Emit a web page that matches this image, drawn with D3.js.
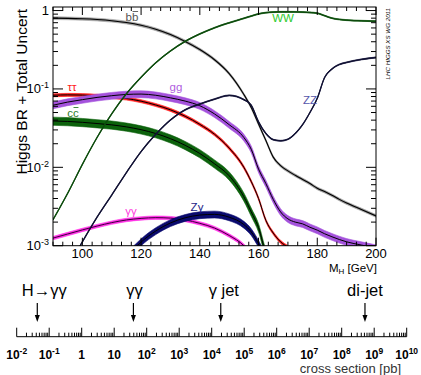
<!DOCTYPE html>
<html><head><meta charset="utf-8">
<script src="https://cdn.jsdelivr.net/npm/d3@7"></script>
<style>
body{margin:0;background:#fff}
svg{display:block;font-family:"Liberation Sans",Arial,Helvetica,sans-serif}
</style></head><body>
<svg id="c" width="421" height="375"></svg>
<script>
// ---------------- data ----------------
const masses = [90,95,100,105,110,115,120,125,130,135,140,145,150,155,157.5,160,162.5,165,167.5,170,172.5,175,177.5,180,182.5,185,187.5,190,195,200];
const brBB = [0.80,0.795,0.785,0.768,0.742,0.703,0.648,0.577,0.494,0.404,0.318,0.236,0.157,0.085,0.058,0.0356,0.022,0.0135,0.0105,0.0090,0.0079,0.0070,0.0062,0.0054,0.0049,0.0044,0.0039,0.0035,0.0029,0.0024];
const brTauTau = [0.083,0.084,0.0835,0.0818,0.079,0.0755,0.0698,0.0624,0.0541,0.0448,0.0353,0.0264,0.0176,0.0100,0.0066,0.0040,0.0021,0.00145,0.00112,0.00096,0.00086,0.00078,0.00070,0.00063,0.00057,0.00051,0.00046,0.00041,0.00034,0.00028];
const brCC = [0.039,0.0385,0.0375,0.0362,0.0348,0.0328,0.0302,0.027,0.0232,0.0191,0.0150,0.0111,0.0078,0.0042,0.0027,0.0017,0.0008,0.00057,0.00045,0.00039,0.00035,0.00032,0.00029,0.00026,0.00024,0.00021,0.00019,0.00017,0.00014,0.00012];
const brGG = [0.062,0.068,0.073,0.078,0.082,0.085,0.086,0.083,0.077,0.070,0.061,0.048,0.035,0.024,0.017,0.0095,0.0062,0.0039,0.0027,0.0022,0.0020,0.0019,0.00172,0.00158,0.00142,0.0013,0.0012,0.00112,0.00102,0.00093];
const brGamGam = [0.00125,0.00141,0.00159,0.00178,0.00197,0.00213,0.00223,0.00228,0.00225,0.00213,0.00193,0.00168,0.00135,0.00100,0.00078,0.00052,0.00035,0.00024,0.00019,0.00016,0.00014,0.00013,0.00012,0.00011,0.0001,0.00009,0.000085,0.00008,0.00007,0.00006];
const brZGam = [null,null,null,0.00012,0.00033,0.00070,0.00111,0.00154,0.00195,0.00227,0.00246,0.00251,0.00231,0.00186,0.0015,0.00106,0.0007,0.0005,0.0004,0.00035,0.0003,0.00028,0.00026,0.00024,0.00022,0.0002,0.00019,0.00018,0.00016,0.00014];
const brWW = [0.00214,0.00466,0.0109,0.0240,0.0482,0.0868,0.141,0.216,0.305,0.404,0.503,0.603,0.698,0.796,0.85,0.905,0.94,0.955,0.962,0.962,0.96,0.955,0.945,0.925,0.86,0.80,0.77,0.755,0.74,0.73];
const brZZ = [0.00025,0.00052,0.00112,0.00231,0.00443,0.00857,0.0159,0.0264,0.0402,0.0541,0.0641,0.0741,0.0827,0.0730,0.062,0.038,0.027,0.0225,0.0218,0.0228,0.027,0.035,0.050,0.076,0.14,0.18,0.205,0.218,0.238,0.252];
// relative uncertainty (band half width) per channel
const channelNames = ["bb","tautau","cc","gamgam","Zgam","gg","WW","ZZ"];
const channelUncert = [0.04,0.045,0.12,0.05,0.10,0.10,0.015,0.015];

const xTickLabels = [100,120,140,160,180,200];
const yTickExponents = [0,-1,-2,-3];
const xsExponents = [-2,-1,0,1,2,3,4,5,6,7,8,9,10];
const processNames = ["H\u2192\u03b3\u03b3","\u03b3\u03b3","\u03b3 jet","di-jet"];
const processXsec = [0.043,39,1.9e4,5.2e8];

// ---------------- drawing ----------------
const svg = d3.select("#c");
const L=53,R=376,T=7,B=245.7;
const x = d3.scaleLinear().domain([90,200]).range([L,R]);
const y = d3.scaleLog().domain([1e-3,1.11]).range([B,T]);

svg.append("defs").append("clipPath").attr("id","clip")
  .append("rect").attr("x",L).attr("y",T).attr("width",R-L).attr("height",B-T);
const plot = svg.append("g").attr("clip-path","url(#clip)");

const series = {
  bb:{v:brBB, band:"#9c9c9c", line:"#000", lw:1.1},
  tautau:{v:brTauTau, band:"#ff1c1c", line:"#000", lw:1},
  cc:{v:brCC, band:"#0c620c", line:"#000", lw:1},
  gamgam:{v:brGamGam, band:"#ff2fe6", line:"#3a003a", lw:1},
  Zgam:{v:brZGam, band:"#0a0a6e", line:"#000", lw:1},
  gg:{v:brGG, band:"#a452dc", line:"#000", lw:1},
  WW:{v:brWW, band:"#0d5a0d", line:"#0d4a0d", lw:1.3},
  ZZ:{v:brZZ, band:"#17173f", line:"#111133", lw:1.3}
};
const pts = v => masses.map((m,i)=>({m, v:v[i]})).filter(d=>d.v!=null);
const line = d3.line().x(d=>x(d.m)).y(d=>y(d.v)).curve(d3.curveMonotoneX);

channelNames.forEach((name,k)=>{
  const s = series[name], u = channelUncert[k];
  const p = pts(s.v);
  const area = d3.area().x(d=>x(d.m)).y0(d=>y(d.v*(1-u))).y1(d=>y(d.v*(1+u))).curve(d3.curveMonotoneX);
  plot.append("path").datum(p).attr("d",area).attr("fill",s.band).attr("stroke",s.band).attr("stroke-width",0.6);
  plot.append("path").datum(p).attr("d",line).attr("fill","none").attr("stroke",s.line).attr("stroke-width",s.lw);
});

// frame
svg.append("rect").attr("x",L).attr("y",T).attr("width",R-L).attr("height",B-T)
  .attr("fill","none").attr("stroke","#000").attr("stroke-width",1);

// x ticks (inside, top & bottom)
const ax = svg.append("g").attr("stroke","#000").attr("stroke-width",1);
const minorX = d3.range(80,201,20/6).filter(m=>m>=90&&m<=200.01);
minorX.forEach(m=>{
  const major = xTickLabels.some(t=>Math.abs(t-m)<0.01);
  const len = major?8:4, xx=x(m);
  ax.append("line").attr("x1",xx).attr("x2",xx).attr("y1",B).attr("y2",B-len);
  ax.append("line").attr("x1",xx).attr("x2",xx).attr("y1",T).attr("y2",T+len);
});
// y ticks (inside, left & right)
y.ticks().forEach(v=>{
  const e=Math.log10(v), major=Math.abs(e-Math.round(e))<1e-6;
  const len=major?10:5, yy=y(v);
  ax.append("line").attr("x1",L).attr("x2",L+len).attr("y1",yy).attr("y2",yy);
  ax.append("line").attr("x1",R).attr("x2",R-len).attr("y1",yy).attr("y2",yy);
});

// x labels
xTickLabels.forEach(t=>{
  svg.append("text").attr("x",x(t)).attr("y",257.5).attr("text-anchor","middle")
    .attr("font-size",13).text(t);
});
// y labels
yTickExponents.forEach(e=>{
  const t = svg.append("text").attr("x",49).attr("y",y(Math.pow(10,e))+4.5)
    .attr("text-anchor","end").attr("font-size",13);
  if(e===0){ t.text("1"); }
  else { t.append("tspan").text("10"); t.append("tspan").attr("dy",-5).attr("font-size",9).text(e===-1?"-1":String(e)); }
});
// axis titles
svg.append("text").attr("transform","translate(27,9) rotate(-90)").attr("text-anchor","end")
  .attr("font-size",15.5).text("Higgs BR + Total Uncert");
const mt = svg.append("text").attr("x",377).attr("y",271.5).attr("text-anchor","end").attr("font-size",11.5);
mt.append("tspan").text("M");
mt.append("tspan").attr("dy",2.5).attr("font-size",8).text("H");
mt.append("tspan").attr("dy",-2.5).text(" [GeV]");
svg.append("text").attr("transform","translate(390,8) rotate(-90)").attr("text-anchor","end")
  .attr("font-size",6.2).attr("font-style","italic").text("LHC HIGGS XS WG 2011");

// channel labels
const lab = (tx,xx,yy,col,over)=>{
  const t = svg.append("text").attr("x",xx).attr("y",yy).attr("text-anchor","middle").attr("font-size",11.5).attr("fill",col).text(tx);
  if(over){
    const n=t.node(), w=n.getComputedTextLength(), w1=n.getSubStringLength(0,1);
    const x0 = xx - w/2;
    svg.append("line").attr("x1",x0+w1+0.5).attr("x2",x0+w-0.3).attr("y1",yy-9.5).attr("y2",yy-9.5)
      .attr("stroke",col).attr("stroke-width",0.9);
  }
};
lab("bb",132,21,"#555",true);
lab("WW",283,22,"#2ecc2e");
lab("\u03c4\u03c4",72,91,"#ff2020");
lab("gg",176,91,"#b060e0");
lab("cc",73,117,"#2e7d2e",true);
lab("ZZ",310,104,"#5555aa");
lab("\u03b3\u03b3",131,215,"#ff3ee0");
lab("Z\u03b3",197,211,"#1e1e88");

// ---------------- cross-section axis ----------------
const xs = d3.scaleLog().domain([1e-2,1e10]).range([16.7,406.7]);
const ay = 336.7;
const bg = svg.append("g").attr("stroke","#000").attr("stroke-width",1);
bg.append("line").attr("x1",xs.range()[0]).attr("x2",xs.range()[1]).attr("y1",ay).attr("y2",ay);
xsExponents.forEach((e,i)=>{
  const xx = xs(Math.pow(10,e));
  bg.append("line").attr("x1",xx).attr("x2",xx).attr("y1",ay).attr("y2",ay-9);
  if(i<xsExponents.length-1){
    for(let k=2;k<=9;k++){
      const xm = xs(k*Math.pow(10,e));
      bg.append("line").attr("x1",xm).attr("x2",xm).attr("y1",ay).attr("y2",ay-4);
    }
  }
  const t = svg.append("text").attr("x",xx).attr("y",358.5).attr("text-anchor","middle")
    .attr("font-size",12).attr("font-weight","bold");
  if(e===0) t.text("1");
  else if(e===1) t.text("10");
  else { t.append("tspan").text("10"); t.append("tspan").attr("dy",-5).attr("font-size",8.5).text(String(e)); }
});
svg.append("text").attr("x",401).attr("y",373).attr("text-anchor","end").attr("font-size",13)
  .attr("fill","#333").text("cross section [pb]");

const labelDx = [7,1,3,0];
processNames.forEach((n,i)=>{
  const xx = xs(processXsec[i]);
  svg.append("line").attr("x1",xx).attr("x2",xx).attr("y1",303).attr("y2",316).attr("stroke","#000").attr("stroke-width",1.2);
  svg.append("path").attr("d",`M${xx-2.5},315 L${xx+2.5},315 L${xx},322 Z`).attr("fill","#000");
  svg.append("text").attr("x",xx+labelDx[i]).attr("y",296).attr("text-anchor","middle").attr("font-size",16.5).text(n);
});
</script></body></html>
